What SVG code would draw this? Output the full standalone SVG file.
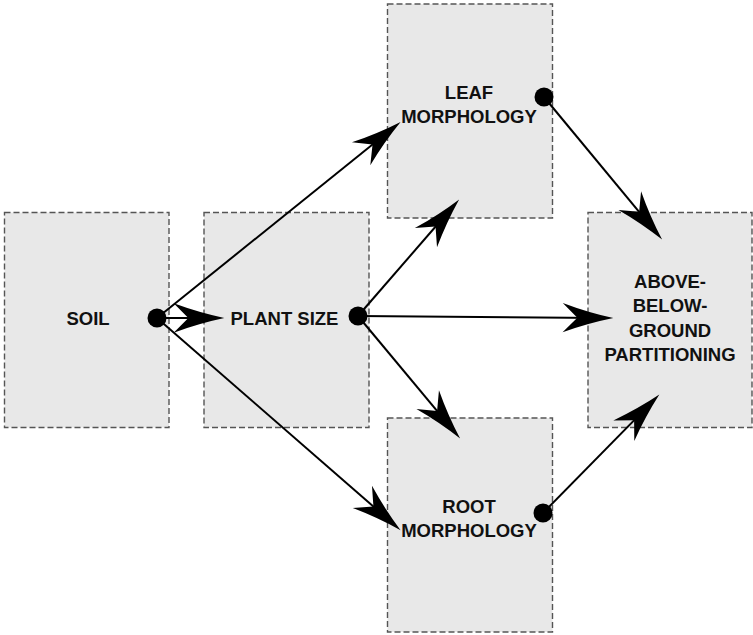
<svg xmlns="http://www.w3.org/2000/svg" width="753" height="635" viewBox="0 0 753 635">
  <style>
    .box { fill: #e8e8e8; stroke: #555555; stroke-width: 1.4; stroke-dasharray: 6 3; }
    .lbl { font-family: "Liberation Sans", Arial, sans-serif; font-weight: bold; font-size: 18.5px; fill: #111111; text-anchor: middle; }
    .edge { stroke: #000000; stroke-width: 2; fill: none; marker-end: url(#head); }
    .dot { fill: #000000; }
  </style>
  <defs>
    <!-- swept arrowhead; its tip sits 10 units past the line end -->
    <marker id="head" markerUnits="userSpaceOnUse" markerWidth="60" markerHeight="40" viewBox="-30 -15 45 30" refX="0" refY="0" orient="auto" overflow="visible">
      <path d="M10,0 Q-9,-4 -28,-11 L-17,0 L-28,11 Q-9,4 10,0 Z" fill="#000000"/>
    </marker>
  </defs>

  <g id="soil">
    <rect class="box" x="4.5" y="212.5" width="164.5" height="215"/>
    <text class="lbl" x="88" y="325">SOIL</text>
  </g>
  <g id="plant-size">
    <rect class="box" x="204" y="212.5" width="165" height="215"/>
    <text class="lbl" x="284.5" y="325">PLANT SIZE</text>
  </g>
  <g id="leaf-morphology">
    <rect class="box" x="387.5" y="4" width="165" height="214"/>
    <text class="lbl" x="469" y="99">LEAF</text>
    <text class="lbl" x="469" y="123">MORPHOLOGY</text>
  </g>
  <g id="root-morphology">
    <rect class="box" x="387.5" y="418" width="165" height="214"/>
    <text class="lbl" x="469" y="513">ROOT</text>
    <text class="lbl" x="469" y="537">MORPHOLOGY</text>
  </g>
  <g id="partitioning">
    <rect class="box" x="588" y="212.5" width="164" height="215"/>
    <text class="lbl" x="670" y="288">ABOVE-</text>
    <text class="lbl" x="670" y="312">BELOW-</text>
    <text class="lbl" x="670" y="337">GROUND</text>
    <text class="lbl" x="670" y="361">PARTITIONING</text>
  </g>

  <g id="connectors">
    <line class="edge" x1="157" y1="318" x2="211" y2="318"/>
    <line class="edge" x1="157" y1="318" x2="390.2" y2="130.3"/>
    <line class="edge" x1="157" y1="318" x2="390.5" y2="521.4"/>
    <line class="edge" x1="358" y1="316" x2="450.4" y2="209.5"/>
    <line class="edge" x1="358" y1="316" x2="600" y2="317.9"/>
    <line class="edge" x1="358" y1="316" x2="451.6" y2="428.3"/>
    <line class="edge" x1="544" y1="97" x2="653.6" y2="229.3"/>
    <line class="edge" x1="543" y1="513" x2="650" y2="404.1"/>
    <circle class="dot" cx="157" cy="318" r="9.5"/>
    <circle class="dot" cx="358" cy="316" r="9.5"/>
    <circle class="dot" cx="544" cy="97" r="9.5"/>
    <circle class="dot" cx="543" cy="513" r="9.5"/>
  </g>
</svg>
